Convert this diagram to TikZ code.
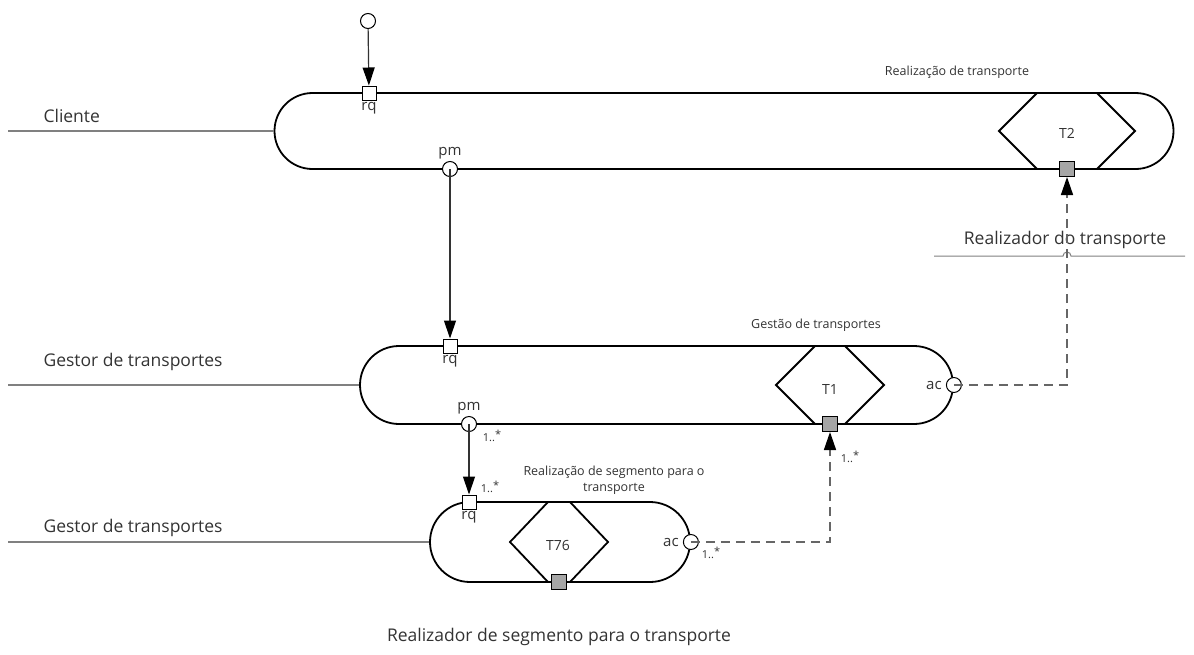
\documentclass[tikz,border=0pt]{standalone}
\usepackage{fontspec}
\setmainfont{Open Sans}
\usetikzlibrary{arrows.meta,positioning}

\begin{document}
\begin{tikzpicture}[x=1pt,y=-1pt,
    capsule/.style={draw,line width=1.8pt,rounded corners=#1,inner sep=0pt,minimum height=2*#1},
    lane/.style={draw=black!50,line width=1.8pt},
    lanelbl/.style={font=\fontsize{17.5}{21}\selectfont,text=black!80},
    actlbl/.style={font=\fontsize{12.5}{16}\selectfont,text=black!80,align=center},
    tlbl/.style={font=\fontsize{14}{16}\selectfont,text=black!80},
    portlbl/.style={font=\fontsize{15}{17}\selectfont,text=black!80,inner sep=0pt},
    mult/.style={font=\fontsize{11}{13}\selectfont,text=black!80,inner sep=1pt},
    rqport/.style={draw,fill=white,line width=1pt,minimum size=14pt,inner sep=0pt},
    export/.style={draw,fill=black!35,line width=1pt,minimum size=15pt,inner sep=0pt},
    cport/.style={circle,draw,fill=white,line width=1pt,minimum size=15pt,inner sep=0pt},
    hexa/.style={line width=1.8pt,line join=miter},
    flow/.style={draw=black!80,line width=1.2pt,-{Triangle[length=18pt,width=12pt,color=black]}},
    dflow/.style={flow,draw=black!60,line width=1.5pt,dash pattern=on 9pt off 6pt}]
  \useasboundingbox (0,0) rectangle (1194,654);

  \node[capsule=38pt,minimum width=899pt] (tcap) at (724,131) {};
  \node[capsule=39pt,minimum width=593pt] (mcap) at (656.5,385) {};
  \node[capsule=40pt,minimum width=260pt] (bcap) at (560,542) {};

  \draw[lane] (8,131) -- (tcap.west);
  \draw[lane] (8,385) -- (mcap.west);
  \draw[lane] (8,542) -- (bcap.west);
  \draw[lane,line width=1pt] (934,256) -- (1063,256) arc (180:360:4) -- (1185,256);

  \node[lanelbl,anchor=west] (cli) at (40,116) {Cliente};
  \node[lanelbl,anchor=west] (gtr) at (40,362) {Gestor de transportes};
  \node[lanelbl,anchor=west] (gtr2) at (40,528) {Gestor de transportes};
  \node[lanelbl] (rtr) at (1065,240) {Realizador do transporte};
  \node[lanelbl] (rseg) at (559,637) {Realizador de segmento para o transporte};

  \node[actlbl] (atr) at (957,72) {Realização de transporte};
  \node[actlbl] (agt) at (816,325) {Gestão de transportes};
  \node[actlbl] (aseg) at (614,480) {Realização de segmento para o\\transporte};

  \draw[hexa] (1037,93) -- (999,131) -- (1037,169) -- (1097,169) -- (1135,131) -- (1097,93) -- cycle;
  \draw[hexa] (815,346) -- (776,385) -- (815,424) -- (845,424) -- (884,385) -- (845,346) -- cycle;
  \draw[hexa] (548,502) -- (510,542) -- (548,582) -- (570,582) -- (608,542) -- (570,502) -- cycle;
  \node[tlbl] (t2) at (1067,133) {T2};
  \node[tlbl] (t1) at (830,389) {T1};
  \node[tlbl] (t76) at (558,545) {T76};

  \node[cport] (start) at (368,21) {};
  \node[rqport] (rq1) at (369,93) {};
  \node[cport] (pm1) at (450,169) {};
  \node[export] (gp1) at (1067,169) {};
  \node[rqport] (rq2) at (450,346) {};
  \node[cport] (pm2) at (469,424) {};
  \node[export] (gp2) at (830,424) {};
  \node[cport] (ac2) at (mcap.east) {};
  \node[rqport] (rq3) at (469,502) {};
  \node[export] (gp3) at (559,582) {};
  \node[cport] (ac3) at (bcap.east) {};

  \node[portlbl,below=2pt of rq1] {rq};
  \node[portlbl,above=2pt of pm1] {pm};
  \node[portlbl,below=2pt of rq2] {rq};
  \node[portlbl,above=2pt of pm2] {pm};
  \node[portlbl,left=4pt of ac2] {ac};
  \node[portlbl,below=2pt of rq3] {rq};
  \node[portlbl,left=4pt of ac3] {ac};

  \node[mult] at (492,436) {1..\raisebox{3pt}{*}};
  \node[mult] at (490,487) {1..\raisebox{3pt}{*}};
  \node[mult] at (711,553) {1..\raisebox{3pt}{*}};
  \node[mult] at (850,457) {1..\raisebox{3pt}{*}};

  \draw[flow] (start) -- (rq1);
  \draw[flow] (pm1.center) -- (rq2);
  \draw[flow] (pm2.center) -- (rq3);
  \draw[dflow] (ac2.center) -| (gp1);
  \draw[dflow] (ac3.center) -| (gp2);
\end{tikzpicture}
\end{document}
